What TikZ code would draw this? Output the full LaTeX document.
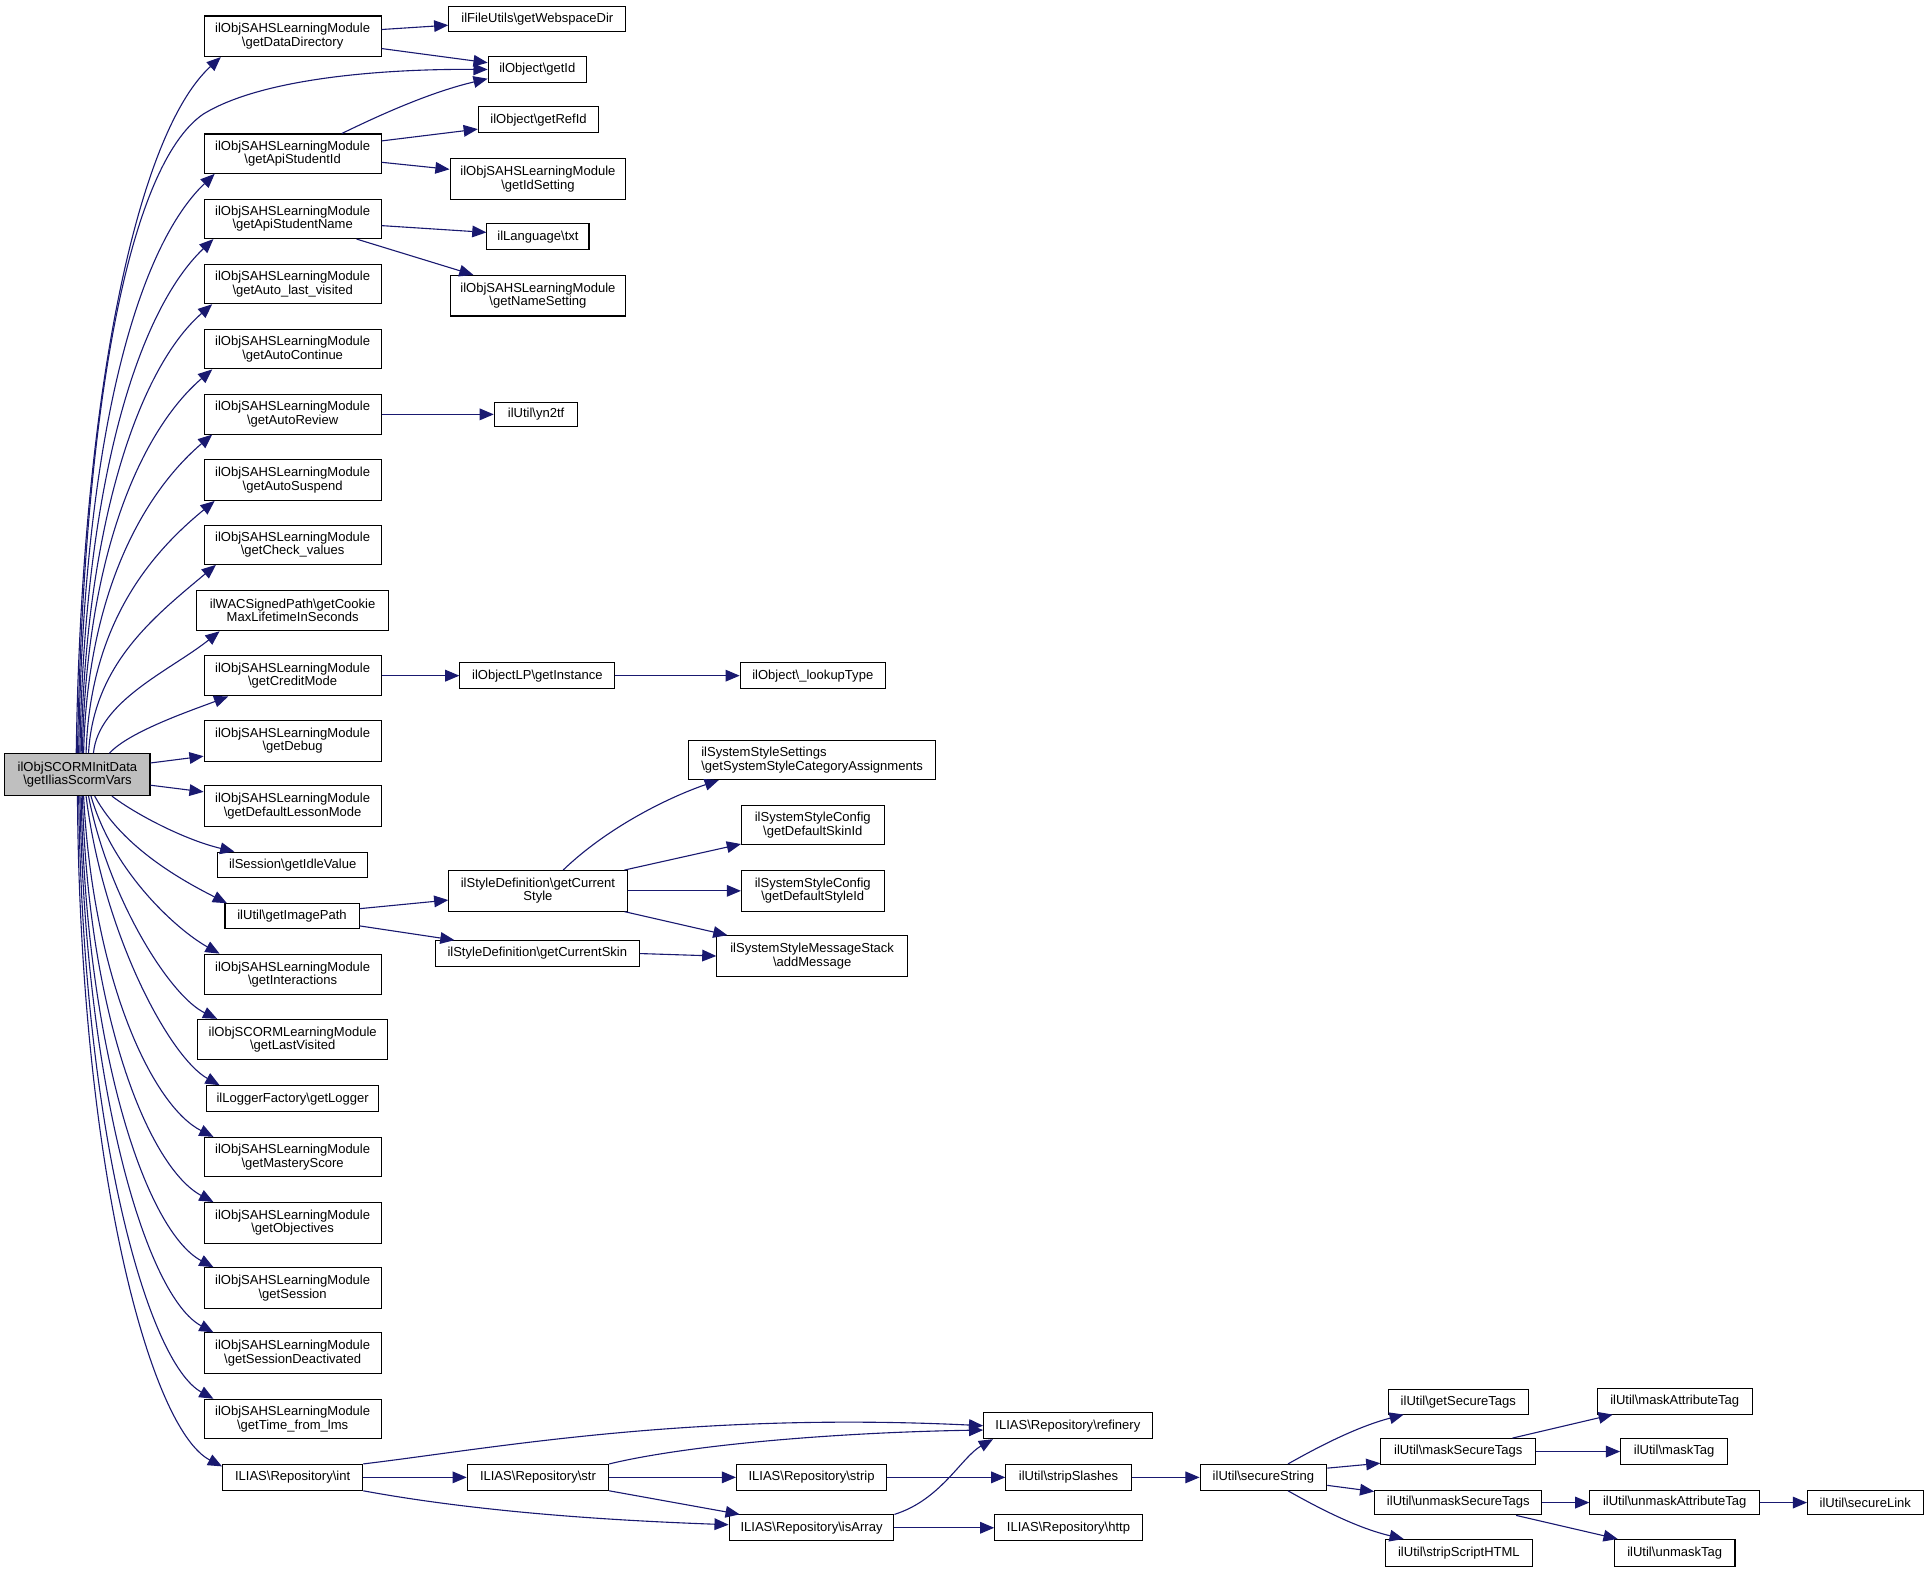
\documentclass[tikz,border=0pt]{standalone}
\usepackage{fontspec}
\setmainfont{Liberation Sans}
\usetikzlibrary{arrows.meta}
\definecolor{edgec}{HTML}{191970}
\definecolor{rootfill}{HTML}{BFBFBF}
\newcommand\bs{\textbackslash}
\tikzset{
  box/.style={draw=black, fill=white, line width=0.85pt, inner sep=0pt, align=center,
    font=\fontsize{10.6}{11}\selectfont},
  edge/.style={draw=edgec, line width=0.9pt, -{Triangle[length=11.5pt,width=9.5pt]}}
}
\newcommand\mkbox[7][]{\node[box,#1,minimum width={#5-#3},minimum height={#6-#4}] (#2) at ({(#3+#5)/2},{(#4+#6)/2}) {#7};}
\begin{document}
\begin{tikzpicture}[x=1pt,y=-1pt]
\path[use as bounding box] (0,0) rectangle (1568,1278.5);
% column 0
\mkbox[fill=rootfill]{root}{4}{613}{122}{647}{ilObjSCORMInitData\\\bs getIliasScormVars}
% column 1
\mkbox{dataDir}{166}{13}{310}{46}{ilObjSAHSLearningModule\\\bs getDataDirectory}
\mkbox{apiId}{166}{109}{310}{141}{ilObjSAHSLearningModule\\\bs getApiStudentId}
\mkbox{apiName}{166}{162}{310}{194}{ilObjSAHSLearningModule\\\bs getApiStudentName}
\mkbox{lastvis}{166}{215}{310}{247}{ilObjSAHSLearningModule\\\bs getAuto\_last\_visited}
\mkbox{autoCont}{166}{268}{310}{300}{ilObjSAHSLearningModule\\\bs getAutoContinue}
\mkbox{autoRev}{166}{321}{310}{353}{ilObjSAHSLearningModule\\\bs getAutoReview}
\mkbox{autoSusp}{166}{374}{310}{407}{ilObjSAHSLearningModule\\\bs getAutoSuspend}
\mkbox{checkVal}{166}{427}{310}{459}{ilObjSAHSLearningModule\\\bs getCheck\_values}
\mkbox{cookie}{160}{480}{316}{513}{ilWACSignedPath\bs getCookie\\MaxLifetimeInSeconds}
\mkbox{credit}{166}{533}{310}{566}{ilObjSAHSLearningModule\\\bs getCreditMode}
\mkbox{debug}{166}{586}{310}{619}{ilObjSAHSLearningModule\\\bs getDebug}
\mkbox{lessonMode}{166}{639}{310}{672}{ilObjSAHSLearningModule\\\bs getDefaultLessonMode}
\mkbox{idle}{177}{693}{299}{714}{ilSession\bs getIdleValue}
\mkbox{imgPath}{183}{735}{292}{755}{ilUtil\bs getImagePath}
\mkbox{interact}{166}{776}{310}{809}{ilObjSAHSLearningModule\\\bs getInteractions}
\mkbox{lastVisited}{161}{829}{315}{862}{ilObjSCORMLearningModule\\\bs getLastVisited}
\mkbox{logger}{168}{883}{308}{904}{ilLoggerFactory\bs getLogger}
\mkbox{mastery}{166}{925}{310}{957}{ilObjSAHSLearningModule\\\bs getMasteryScore}
\mkbox{objectives}{166}{978}{310}{1011}{ilObjSAHSLearningModule\\\bs getObjectives}
\mkbox{session}{166}{1031}{310}{1064}{ilObjSAHSLearningModule\\\bs getSession}
\mkbox{deact}{166}{1084}{310}{1117}{ilObjSAHSLearningModule\\\bs getSessionDeactivated}
\mkbox{timelms}{166}{1138}{310}{1170}{ilObjSAHSLearningModule\\\bs getTime\_from\_lms}
\mkbox{int}{181}{1191}{295}{1212}{ILIAS\bs Repository\bs int}
% column 2
\mkbox{webspace}{365}{5}{509}{26}{ilFileUtils\bs getWebspaceDir}
\mkbox{getId}{397}{46}{477}{67}{ilObject\bs getId}
\mkbox{refId}{389}{87}{487}{108}{ilObject\bs getRefId}
\mkbox{idSetting}{366}{129}{509}{162}{ilObjSAHSLearningModule\\\bs getIdSetting}
\mkbox{txt}{396}{182}{479}{203}{ilLanguage\bs txt}
\mkbox{nameSetting}{366}{224}{509}{257}{ilObjSAHSLearningModule\\\bs getNameSetting}
\mkbox{yn2tf}{402}{327}{470}{347}{ilUtil\bs yn2tf}
\mkbox{instance}{374}{539}{500}{560}{ilObjectLP\bs getInstance}
\mkbox{lookup}{602}{539}{720}{560}{ilObject\bs\_lookupType}
\mkbox[align=left]{catAssign}{560}{602}{761}{634}{ilSystemStyleSettings\\\bs getSystemStyleCategoryAssignments}
\mkbox{skinId}{603}{655}{719}{687}{ilSystemStyleConfig\\\bs getDefaultSkinId}
\mkbox{styleId}{603}{708}{719}{741}{ilSystemStyleConfig\\\bs getDefaultStyleId}
\mkbox{curStyle}{365}{708}{510}{741}{ilStyleDefinition\bs getCurrent\\Style}
\mkbox{curSkin}{354}{765}{520}{786}{ilStyleDefinition\bs getCurrentSkin}
\mkbox{addMsg}{583}{761}{738}{794}{ilSystemStyleMessageStack\\\bs addMessage}
% bottom chain
\mkbox{refinery}{800}{1149}{937}{1170}{ILIAS\bs Repository\bs refinery}
\mkbox{str}{380}{1191}{495}{1212}{ILIAS\bs Repository\bs str}
\mkbox{strip}{599}{1191}{721}{1212}{ILIAS\bs Repository\bs strip}
\mkbox{stripSlashes}{818}{1191}{920}{1212}{ilUtil\bs stripSlashes}
\mkbox{isArray}{593}{1232}{727}{1253}{ILIAS\bs Repository\bs isArray}
\mkbox{http}{809}{1232}{929}{1253}{ILIAS\bs Repository\bs http}
\mkbox{secureString}{976}{1191}{1079}{1212}{ilUtil\bs secureString}
\mkbox{getSecureTags}{1129}{1130}{1243}{1150}{ilUtil\bs getSecureTags}
\mkbox{maskSecureTags}{1123}{1170}{1249}{1191}{ilUtil\bs maskSecureTags}
\mkbox{unmaskSecureTags}{1118}{1212}{1254}{1232}{ilUtil\bs unmaskSecureTags}
\mkbox{stripScriptHTML}{1127}{1252}{1246}{1274}{ilUtil\bs stripScriptHTML}
\mkbox{maskAttributeTag}{1299}{1129}{1425}{1150}{ilUtil\bs maskAttributeTag}
\mkbox{maskTag}{1318}{1170}{1405}{1191}{ilUtil\bs maskTag}
\mkbox{unmaskAttributeTag}{1293}{1212}{1431}{1232}{ilUtil\bs unmaskAttributeTag}
\mkbox{unmaskTag}{1313}{1252}{1411}{1274}{ilUtil\bs unmaskTag}
\mkbox{secureLink}{1470}{1212}{1564}{1232}{ilUtil\bs secureLink}

% root -> upper targets
\draw[edge] ([xshift=-1pt]root.north) .. controls (66,330) and (110,110) .. ([xshift=14pt]dataDir.south west);
\draw[edge] (root.north) .. controls (68,330) and (105,135) .. (165,93) .. controls (215,62) and (320,56) .. (getId.west);
\draw[edge] ([xshift=1pt]root.north) .. controls (67,370) and (108,205) .. ([xshift=9pt]apiId.south west);
\draw[edge] ([xshift=2pt]root.north) .. controls (68,400) and (110,255) .. ([xshift=8pt]apiName.south west);
\draw[edge] ([xshift=3pt]root.north) .. controls (69,430) and (112,300) .. ([xshift=7pt]lastvis.south west);
\draw[edge] ([xshift=4pt]root.north) .. controls (70,450) and (115,350) .. ([xshift=7pt]autoCont.south west);
\draw[edge] ([xshift=5pt]root.north) .. controls (71,480) and (118,400) .. ([xshift=7pt]autoRev.south west);
\draw[edge] ([xshift=7pt]root.north) .. controls (73,510) and (120,452) .. ([xshift=9pt]autoSusp.south west);
\draw[edge] ([xshift=9pt]root.north) .. controls (76,540) and (126,501) .. ([xshift=10pt]checkVal.south west);
\draw[edge] ([xshift=13pt]root.north) .. controls (80,570) and (139,545) .. ([xshift=19pt]cookie.south west);
\draw[edge] ([xshift=26pt]root.north) .. controls (105,595) and (155,578) .. ([xshift=20pt]credit.south west);
\draw[edge] ([yshift=9.5pt]root.east) -- ([yshift=-12.5pt]debug.west);
\draw[edge] ([yshift=-8.6pt]root.east) -- ([yshift=11.5pt]lessonMode.west);
% root -> lower targets
\draw[edge] ([xshift=28pt]root.south) .. controls (110,662) and (150,683) .. ([xshift=14pt]idle.north west);
\draw[edge] ([xshift=14pt]root.south) .. controls (100,690) and (150,717) .. ([xshift=2pt]imgPath.north west);
\draw[edge] ([xshift=11pt]root.south) .. controls (92,710) and (145,757) .. ([xshift=13pt]interact.north west);
\draw[edge] ([xshift=9pt]root.south) .. controls (88,730) and (138,810) .. ([xshift=16pt]lastVisited.north west);
\draw[edge] ([xshift=7pt]root.south) .. controls (84,760) and (138,860) .. ([xshift=11pt]logger.north west);
\draw[edge] ([xshift=5pt]root.south) .. controls (76,800) and (125,900) .. ([xshift=8pt]mastery.north west);
\draw[edge] ([xshift=4pt]root.south) .. controls (72,830) and (122,950) .. ([xshift=8pt]objectives.north west);
\draw[edge] ([xshift=3pt]root.south) .. controls (70,860) and (120,1002) .. ([xshift=8pt]session.north west);
\draw[edge] ([xshift=2pt]root.south) .. controls (69,890) and (120,1055) .. ([xshift=8pt]deact.north west);
\draw[edge] ([xshift=1pt]root.south) .. controls (67,920) and (120,1108) .. ([xshift=8pt]timelms.north west);
\draw[edge] (root.south) .. controls (65,950) and (122,1162) .. ([yshift=-2pt]int.north west);

% column 1 -> column 2
\draw[edge] ([yshift=5.5pt]dataDir.east) -- ([yshift=-5pt]webspace.west);
\draw[edge] ([yshift=-10pt]dataDir.east) -- ([yshift=5.5pt]getId.west);
\draw[edge] ([xshift=40pt]apiId.north) .. controls (310,93) and (350,75) .. ([yshift=-7.5pt]getId.west);
\draw[edge] ([yshift=10.4pt]apiId.east) -- ([yshift=-7.5pt]refId.west);
\draw[edge] ([yshift=-7pt]apiId.east) -- ([yshift=7.8pt]idSetting.west);
\draw[edge] ([yshift=-5.5pt]apiName.east) -- ([yshift=3.5pt]txt.west);
\draw[edge] ([xshift=52pt]apiName.south) -- ([xshift=-52.5pt]nameSetting.north);
\draw[edge] (autoRev.east) -- (yn2tf.west);
\draw[edge] (credit.east) -- (instance.west);
\draw[edge] (instance.east) -- (lookup.west);
\draw[edge] ([yshift=6pt]imgPath.east) -- ([yshift=-7.5pt]curStyle.west);
\draw[edge] ([yshift=-8pt]imgPath.east) -- ([xshift=16pt]curSkin.north west);
\draw[edge] ([xshift=20.5pt]curStyle.north) .. controls (495,672) and (545,648) .. ([xshift=25pt]catAssign.south west);
\draw[edge] ([xshift=-2.5pt]curStyle.north east) -- ([yshift=1pt]skinId.south west);
\draw[edge] (curStyle.east) -- (styleId.west);
\draw[edge] ([xshift=-2.5pt]curStyle.south east) -- ([xshift=9pt]addMsg.north west);
\draw[edge] (curSkin.east) -- (addMsg.west);

% bottom chain
\draw[edge] (int.north east) .. controls (400,1178) and (560,1148) .. (refinery.west);
\draw[edge] (int.east) -- (str.west);
\draw[edge] (int.south east) .. controls (380,1228) and (480,1236) .. ([yshift=2.5pt]isArray.west);
\draw[edge] (str.north east) .. controls (560,1175) and (680,1165) .. ([yshift=-3.5pt]refinery.west);
\draw[edge] (str.east) -- (strip.west);
\draw[edge] (str.south east) -- ([xshift=9pt]isArray.north west);
\draw[edge] (strip.east) -- (stripSlashes.west);
\draw[edge] (isArray.north east) .. controls (765,1220) and (782,1185) .. ([xshift=8pt]refinery.south west);
\draw[edge] (isArray.east) -- (http.west);
\draw[edge] (stripSlashes.east) -- (secureString.west);
\draw[edge] ([xshift=20pt]secureString.north) .. controls (1075,1175) and (1105,1160) .. ([xshift=13pt]getSecureTags.south west);
\draw[edge] ([yshift=7.5pt]secureString.east) -- ([yshift=-9.5pt]maskSecureTags.west);
\draw[edge] ([yshift=-6.5pt]secureString.east) -- ([yshift=9pt]unmaskSecureTags.west);
\draw[edge] ([xshift=20pt]secureString.south) .. controls (1075,1228) and (1105,1243) .. ([xshift=15pt]stripScriptHTML.north west);
\draw[edge] ([xshift=44pt]maskSecureTags.north) -- ([xshift=13pt]maskAttributeTag.south west);
\draw[edge] (maskSecureTags.east) -- (maskTag.west);
\draw[edge] (unmaskSecureTags.east) -- (unmaskAttributeTag.west);
\draw[edge] ([xshift=47pt]unmaskSecureTags.south) -- ([xshift=3pt]unmaskTag.north west);
\draw[edge] (unmaskAttributeTag.east) -- (secureLink.west);
\end{tikzpicture}
\end{document}
